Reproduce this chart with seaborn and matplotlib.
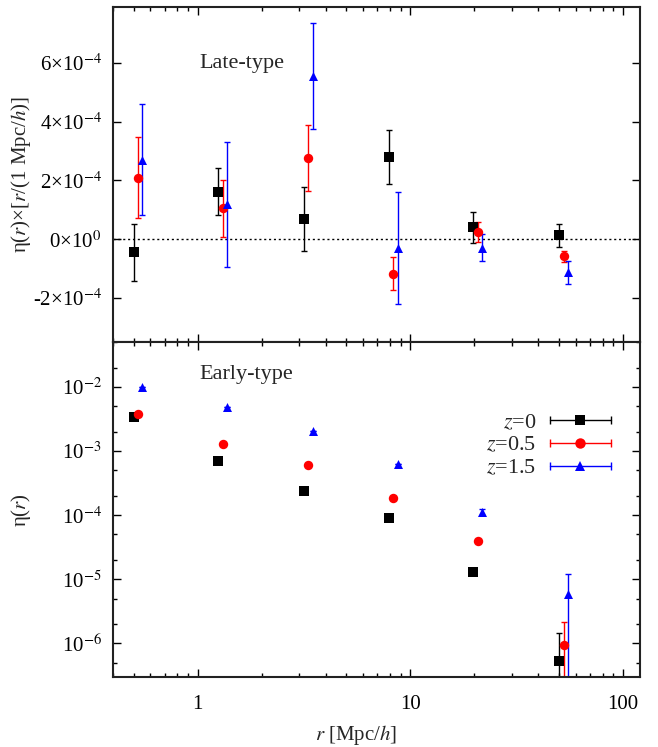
import numpy as np
import pandas as pd
import seaborn as sns
import matplotlib
matplotlib.use("Agg")
import matplotlib.pyplot as plt
from matplotlib.ticker import FixedLocator, FuncFormatter, LogLocator, NullFormatter, NullLocator
from matplotlib.lines import Line2D
from matplotlib.legend_handler import HandlerLine2D, HandlerTuple

# ---------------- data ----------------
r_z0 = [0.5, 1.25, 3.15, 7.9, 19.8, 50.0]
r_z05 = [0.525, 1.31, 3.31, 8.3, 20.8, 52.5]
r_z15 = [0.55, 1.375, 3.47, 8.7, 21.8, 55.0]

# Late-type: eta(r) * r  (units 1e-4)
late_z0 = [-0.45, 1.61, 0.69, 2.80, 0.40, 0.14]
late_z0_err = [0.97, 0.80, 1.09, 0.92, 0.53, 0.39]
late_z05 = [2.09, 1.05, 2.77, -1.17, 0.24, -0.58]
late_z05_err = [1.37, 0.98, 1.13, 0.55, 0.35, 0.19]
late_z15 = [2.71, 1.19, 5.55, -0.29, -0.29, -1.12]
late_z15_err = [1.88, 2.13, 1.79, 1.91, 0.45, 0.39]

# Early-type: eta(r)
early_z0 = [3.37e-3, 6.87e-4, 2.35e-4, 8.97e-5, 1.29e-5, 5.4e-7]
early_z0_err = [0, 0, 0, 0, 0, 9.0e-7]
early_z05 = [3.77e-3, 1.27e-3, 6.15e-4, 1.84e-4, 4.02e-5, 9.6e-7]
early_z05_err = [0, 0, 0, 0, 0, 1.18e-6]
early_z15 = [1.01e-2, 4.82e-3, 2.06e-3, 6.3e-4, 1.12e-4, 5.93e-6]
early_z15_err = [0, 0, 0, 0, 1.3e-5, 6.2e-6]

series_labels = ["$z$=0", "$z$=0.5", "$z$=1.5"]
colors = ["#000000", "#ff0000", "#0000ff"]
markers = ["s", "o", "^"]
sizes = [52, 46, 42]

# ---------------- style ----------------
sns.set_theme(style="ticks")
plt.rcParams["font.family"] = ["Liberation Serif", "DejaVu Serif"]
plt.rcParams["mathtext.fontset"] = "stix"
plt.rcParams["axes.unicode_minus"] = False
FS = 15
FS_TXT = 16

fig, (ax1, ax2) = plt.subplots(2, 1, figsize=(6.58, 7.47), dpi=100, sharex=True)
fig.subplots_adjust(left=0.1717, right=0.9726, top=0.9906, bottom=0.0937, hspace=0)

r_all = [r_z0, r_z05, r_z15]
late_all = [late_z0, late_z05, late_z15]
late_err_all = [late_z0_err, late_z05_err, late_z15_err]
early_all = [early_z0, early_z05, early_z15]
early_err_all = [early_z0_err, early_z05_err, early_z15_err]

rows_late = []
rows_early = []
for lab, rr, yl, el, ye, ee in zip(series_labels, r_all, late_all, late_err_all, early_all, early_err_all):
    for i in range(len(rr)):
        rows_late.append(dict(r=rr[i], y=yl[i] * 1e-4, err=el[i] * 1e-4, z=lab))
        rows_early.append(dict(r=rr[i], y=ye[i], err=ee[i], z=lab))
df_late = pd.DataFrame(rows_late)
df_early = pd.DataFrame(rows_early)

for ax, df in [(ax1, df_late), (ax2, df_early)]:
    for lab, c, m, s in zip(series_labels, colors, markers, sizes):
        sub = df[df["z"] == lab]
        ax.errorbar(sub["r"], sub["y"], yerr=sub["err"], fmt="none", ecolor=c,
                    elinewidth=1.0, capsize=2.2, capthick=1.0, zorder=2)
        sns.scatterplot(data=sub, x="r", y="y", color=c, marker=m, s=s,
                        linewidth=0, ax=ax, zorder=3, legend=False)

# zero line in top panel
ax1.axhline(0, color="black", lw=1.0, ls=(0, (1.5, 2)), zorder=1)

# axes scales and limits
ax2.set_xscale("log")
ax2.set_xlim(0.4, 120)
ax1.set_ylim(-3.5e-4, 7.9e-4)
ax2.set_yscale("log")
ax2.set_ylim(3e-7, 0.05)

def sci_fmt(v, pos):
    if abs(v) < 1e-12:
        return "0×10$^{0}$"
    e = int(np.floor(np.log10(abs(v)) + 1e-9))
    m = v / 10 ** e
    return "%d×10$^{%d}$" % (round(m), e)

ax1.yaxis.set_major_locator(FixedLocator([-2e-4, 0, 2e-4, 4e-4, 6e-4]))
ax1.yaxis.set_major_formatter(FuncFormatter(sci_fmt))
ax1.yaxis.set_minor_locator(NullLocator())

ax2.yaxis.set_major_locator(LogLocator(base=10, numticks=20))
ax2.yaxis.set_minor_locator(LogLocator(base=10, subs=(2.0, 5.0), numticks=20))
ax2.yaxis.set_minor_formatter(NullFormatter())
ax2.yaxis.set_major_formatter(FuncFormatter(lambda v, p: "10$^{%d}$" % round(np.log10(v))))

ax2.xaxis.set_major_locator(FixedLocator([1, 10, 100]))
ax2.xaxis.set_major_formatter(FuncFormatter(lambda v, p: "%d" % round(v)))
ax2.xaxis.set_minor_locator(LogLocator(base=10, subs=np.arange(2, 10), numticks=20))
ax2.xaxis.set_minor_formatter(NullFormatter())

for ax in (ax1, ax2):
    ax.tick_params(which="both", direction="in", top=True, right=True, colors="black",
                   labelsize=FS, width=1.0)
    ax.tick_params(which="major", length=6)
    ax.tick_params(which="minor", length=3)
    ax.tick_params(axis="y", which="major", pad=8)
    ax.tick_params(axis="x", which="major", pad=13)
    for sp in ax.spines.values():
        sp.set_linewidth(1.5)
        sp.set_color("#222222")
    ax.set_xlabel("")
    ax.set_ylabel("")
ax1.tick_params(labelbottom=False)

ax1.set_ylabel("η($r$)×[$r$/(1 Mpc/$h$)]", fontsize=FS)
ax2.set_ylabel("η($r$)", fontsize=FS)
ax1.yaxis.set_label_coords(-0.152, 0.5)
ax2.yaxis.set_label_coords(-0.152, 0.5)
ax2.set_xlabel("$r$ [Mpc/$h$]", fontsize=FS)
ax2.xaxis.set_label_coords(0.461, -0.138)

ax1.text(0.163, 0.83, "Late-type", transform=ax1.transAxes, fontsize=FS_TXT, va="center", ha="left")
ax2.text(0.163, 0.904, "Early-type", transform=ax2.transAxes, fontsize=FS_TXT, va="center", ha="left")

# legend: horizontal error bar with caps + marker
handles = []
for c, m in zip(colors, markers):
    bar = Line2D([], [], color=c, lw=1.0, marker="|", markersize=6, markeredgewidth=1.0)
    pt = Line2D([], [], color=c, lw=0, marker=m, markersize=7.5 if m != "^" else 7, markeredgewidth=0)
    handles.append((bar, pt))
hmap = {tuple: HandlerTuple(ndivide=1, pad=0)}
for bar, pt in handles:
    hmap[bar] = HandlerLine2D(numpoints=2, marker_pad=0.0)
    hmap[pt] = HandlerLine2D(numpoints=1)
leg = ax2.legend(handles, series_labels, handler_map=hmap,
                 loc="upper right", bbox_to_anchor=(0.945, 0.79), frameon=False, fontsize=FS_TXT,
                 markerfirst=False, handlelength=2.75, handletextpad=0.6, labelspacing=0.1,
                 alignment="right", borderaxespad=0, borderpad=0)
fig.savefig("out.png", dpi=100)
